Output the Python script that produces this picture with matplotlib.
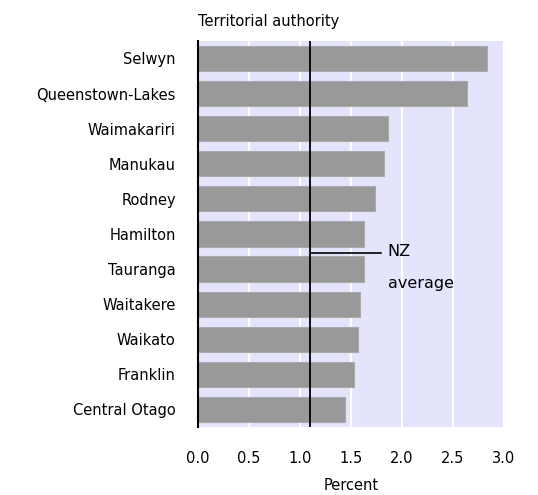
import matplotlib
matplotlib.use("Agg")
import matplotlib.pyplot as plt

# territorial authorities, top to bottom
authorities = [
    "Selwyn", "Queenstown-Lakes", "Waimakariri", "Manukau", "Rodney",
    "Hamilton", "Tauranga", "Waitakere", "Waikato", "Franklin", "Central Otago",
]
percent = [2.83, 2.64, 1.86, 1.82, 1.74, 1.63, 1.63, 1.59, 1.57, 1.53, 1.44]
nz_average = 1.10
xticks = [0.0, 0.5, 1.0, 1.5, 2.0, 2.5, 3.0]

plt.rcParams["font.family"] = ["DejaVu Sans"]
fs = 10.5

fig = plt.figure(figsize=(5.38, 4.95), dpi=100)
ax = fig.add_axes([0.368, 0.1374, 0.5688, 0.780])
ax.set_facecolor("#e4e4fc")

ypos = list(range(len(authorities)))
ax.barh(ypos, percent, height=0.72, color="#999999", edgecolor="#aaaaaa",
        linewidth=0.8, zorder=3)

ax.set_xlim(0, 3.0)
ax.set_ylim(len(authorities) - 0.5, -0.5)
ax.set_xticks(xticks)
ax.set_xticklabels([f"{t:.1f}" for t in xticks], fontsize=fs)
ax.set_yticks(ypos)
ax.set_yticklabels(authorities, fontsize=fs)
ax.tick_params(axis="both", length=0)
ax.tick_params(axis="y", pad=16)
ax.tick_params(axis="x", pad=17)

for t in xticks[1:]:
    ax.axvline(t, color="white", linewidth=1.5, zorder=1)

for side in ["top", "right", "bottom"]:
    ax.spines[side].set_visible(False)
ax.spines["left"].set_linewidth(1.5)
ax.spines["left"].set_color("black")
ax.spines["left"].set_zorder(5)

# NZ average line and label
ax.axvline(nz_average, color="black", linewidth=1.3, zorder=5)
ax.plot([nz_average, 1.79], [5.55, 5.55], color="black", linewidth=1.2,
        zorder=5)
ax.text(1.86, 5.5, "NZ", fontsize=11.5, ha="left", va="center", zorder=6)
ax.text(1.86, 6.42, "average", fontsize=11.5, ha="left", va="center", zorder=6)

ax.set_xlabel("Percent", fontsize=fs, labelpad=9)
ax.text(0.0, 1.03, "Territorial authority", transform=ax.transAxes,
        fontsize=fs, ha="left", va="bottom")

fig.savefig("out.png", dpi=100)
